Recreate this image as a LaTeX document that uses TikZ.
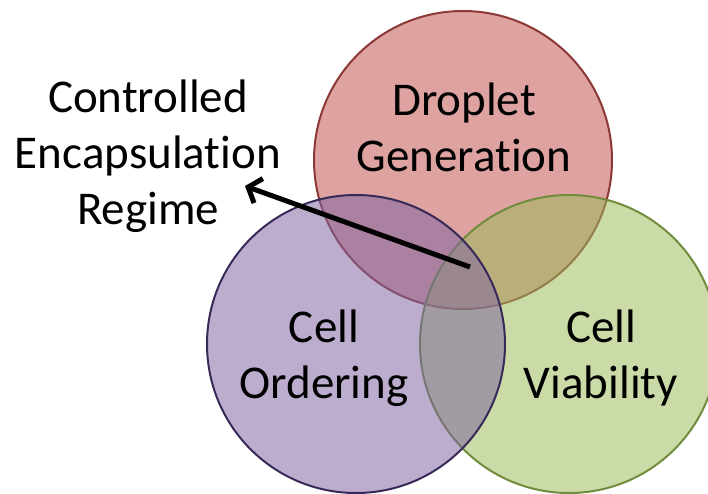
\documentclass[tikz,border=0pt]{standalone}
\usepackage{fontspec}
\setmainfont{Carlito}[Ligatures=NoCommon]
\usetikzlibrary{arrows.meta}

\definecolor{dropfill}{HTML}{C0504D}
\definecolor{dropline}{RGB}{140,56,54}
\definecolor{viabfill}{HTML}{9BBB59}
\definecolor{viabline}{RGB}{113,140,60}
\definecolor{ordfill}{HTML}{8064A2}
\definecolor{ordline}{RGB}{55,42,88}

\begin{document}
\begin{tikzpicture}[x=1pt, y=-1pt,
	set/.style={circle, minimum size=298pt, inner sep=0pt, line width=2pt, fill opacity=0.53},
	lbl/.style={align=center, inner sep=0pt, font=\fontsize{47}{56}\selectfont}]
	\useasboundingbox (0, 0) rectangle (708, 493);
	% the three sets
	\node [set, draw=dropline, fill=dropfill] (droplet) at (463, 160) {};
	\node [set, draw=viabline, fill=viabfill] (viability) at (569, 344) {};
	\node [set, draw=ordline, fill=ordfill] (ordering) at (356, 344) {};
	\node [lbl] (droplettext) at (464, 127) {Droplet\\Generation};
	\node [lbl] (orderingtext) at (324, 358) {Cell\\Ordering};
	\node [lbl] (viabilitytext) at (601, 358) {Cell\\Viability};
	\node [lbl] (regime) at (148, 156) {Controlled\\Encapsulation\\Regime};
	% arrow out of the common part
	\coordinate (core) at (470, 267);
	\coordinate (tip) at (245, 186);
	\draw [line width=5pt, -{Straight Barb[length=11pt, width=26pt]}] (core) -- (tip);
\end{tikzpicture}
\end{document}
